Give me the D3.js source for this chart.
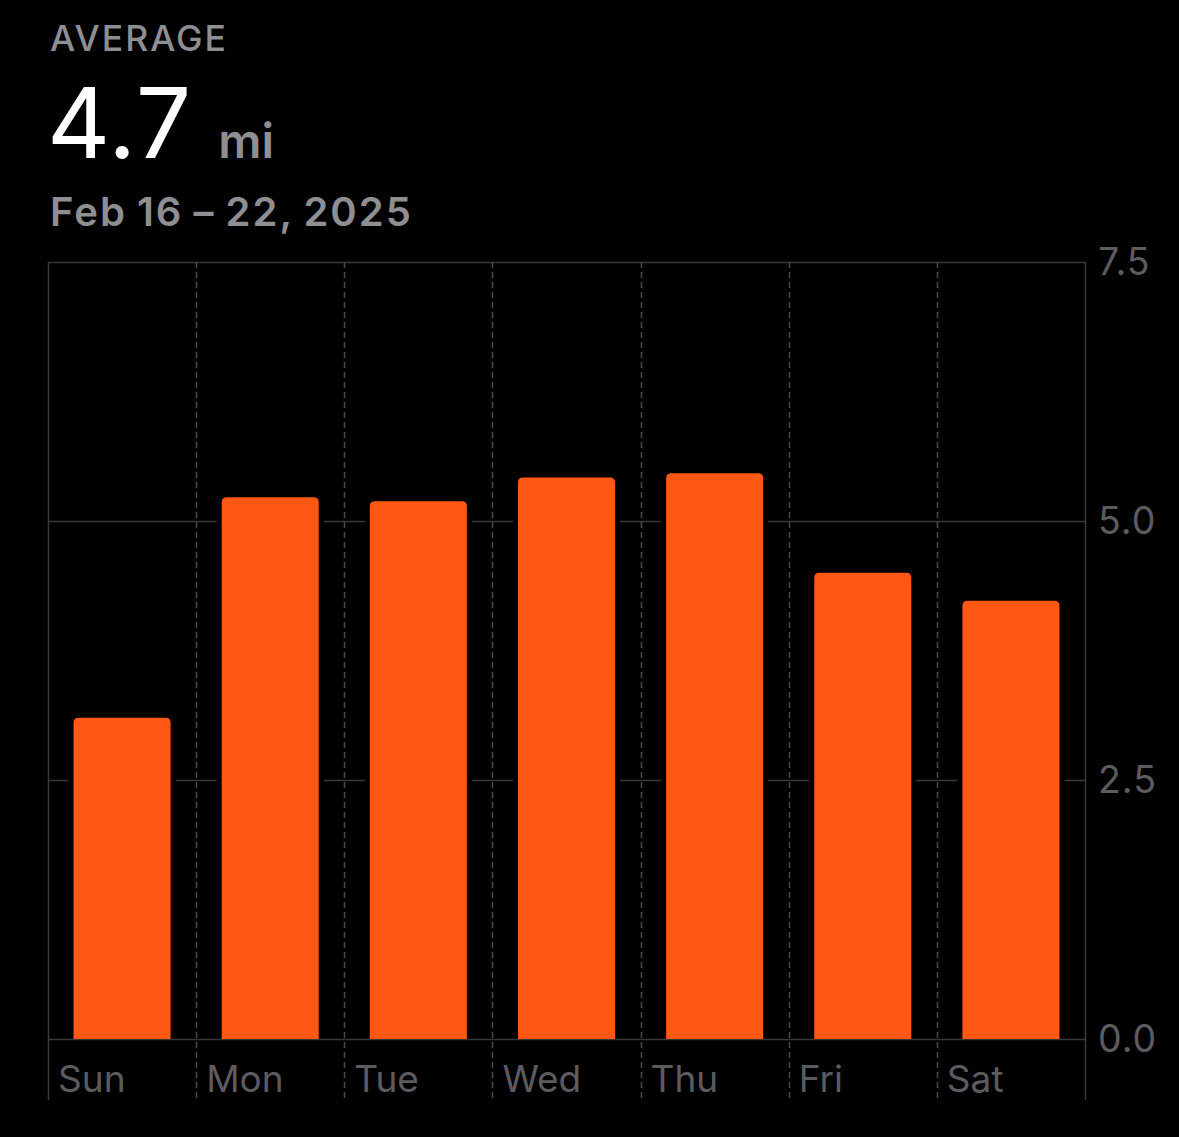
<!DOCTYPE html>
<html><head><meta charset="utf-8">
<script src="https://cdn.jsdelivr.net/npm/d3@7"></script>
<style>html,body{margin:0;background:#000;} svg{display:block}</style></head>
<body>
<svg id="c" width="1179" height="1137"></svg>
<script>
const days = ["Sun","Mon","Tue","Wed","Thu","Fri","Sat"];
const miles = [3.10, 5.23, 5.19, 5.42, 5.46, 4.50, 4.23];
const yTicks = [0, 2.5, 5, 7.5];
const headerLabel = "AVERAGE";
const avgValue = "4.7";
const avgUnit = "mi";
const dateRange = "Feb 16 \u2013 22, 2025";

const svg = d3.select("#c");
const FONT = "Inter, 'Open Sans', sans-serif";
const L = 48, R = 1085, T = 262, B = 1039, LINE_BOTTOM = 1100;

const col = d3.scaleBand().domain(days).range([L, R]).padding(0);
const x = d3.scaleBand().domain(days).range([L, R]).paddingInner(0.345).paddingOuter(0.1725);
const y = d3.scaleLinear().domain([0, 7.5]).range([B, T]);

// header
svg.append("text").attr("x", 50).attr("y", 51).attr("fill", "#8e8e93")
  .attr("font-family", FONT).attr("font-size", 35.5).attr("font-weight", 500)
  .attr("letter-spacing", 2).text(headerLabel);
const big = svg.append("text").attr("x", 47).attr("y", 158).attr("font-family", FONT);
big.append("tspan").attr("fill", "#fff").attr("font-size", 98).attr("font-weight", 400).attr("letter-spacing", 1).text(avgValue);
big.append("tspan").attr("fill", "#8e8e93").attr("font-size", 48).attr("font-weight", 600).attr("dx", 26).text(avgUnit);
svg.append("text").attr("x", 50).attr("y", 226).attr("fill", "#8e8e93")
  .attr("font-family", FONT).attr("font-size", 40).attr("font-weight", 600)
  .attr("letter-spacing", 2).attr("word-spacing", -2).text(dateRange);

const grid = "#38383a";
// horizontal grid lines
svg.append("g").selectAll("line").data(yTicks).join("line")
  .attr("x1", L).attr("x2", R).attr("y1", d => Math.round(y(d)) + 0.5).attr("y2", d => Math.round(y(d)) + 0.5)
  .attr("stroke", grid).attr("stroke-width", 1.5);

// vertical lines
const bounds = days.map(d => col(d)).concat([R]);
svg.append("g").selectAll("line").data(bounds).join("line")
  .attr("x1", d => Math.round(d) + 0.5).attr("x2", d => Math.round(d) + 0.5)
  .attr("y1", T).attr("y2", LINE_BOTTOM)
  .attr("stroke", (d, i) => (i === 0 || i === bounds.length - 1) ? "#3a3a3c" : "#4a4a4c")
  .attr("stroke-width", 1.5)
  .attr("stroke-dasharray", (d, i) => (i === 0 || i === bounds.length - 1) ? null : "6,4");

// knockouts around bars (gaps in gridlines)
svg.append("g").selectAll("rect").data(days).join("rect")
  .attr("x", d => x(d) - 5).attr("width", x.bandwidth() + 10)
  .attr("y", (d, i) => y(miles[i]) - 5).attr("height", (d, i) => B - y(miles[i]) + 3)
  .attr("fill", "#000");

// bars with rounded top
const r = 5;
svg.append("g").selectAll("path").data(days).join("path")
  .attr("fill", "#ff5714")
  .attr("d", (d, i) => {
    const x0 = x(d), x1 = x(d) + x.bandwidth(), y0 = y(miles[i]), y1 = B;
    return `M${x0},${y1}V${y0 + r}Q${x0},${y0} ${x0 + r},${y0}H${x1 - r}Q${x1},${y0} ${x1},${y0 + r}V${y1}Z`;
  });

// y axis
const yAxis = svg.append("g").attr("transform", `translate(${R},0)`)
  .call(d3.axisRight(y).tickValues(yTicks).tickFormat(d3.format(".1f")).tickSize(0).tickPadding(13));
yAxis.select(".domain").remove();
yAxis.selectAll("text").attr("fill", "#5c5c60").attr("font-family", FONT).attr("font-size", 37.5)
  .attr("font-weight", 400).attr("letter-spacing", 1);

// x axis labels
const xAxis = svg.append("g").attr("transform", `translate(0,${B})`)
  .call(d3.axisBottom(col).tickSize(0).tickPadding(0));
xAxis.select(".domain").remove();
xAxis.selectAll("text")
  .attr("text-anchor", "start")
  .attr("x", -col.bandwidth() / 2 + 10)
  .attr("y", 53).attr("dy", 0)
  .attr("fill", "#5c5c60").attr("font-family", FONT).attr("font-size", 37).attr("font-weight", 400);
</script>
</body></html>
